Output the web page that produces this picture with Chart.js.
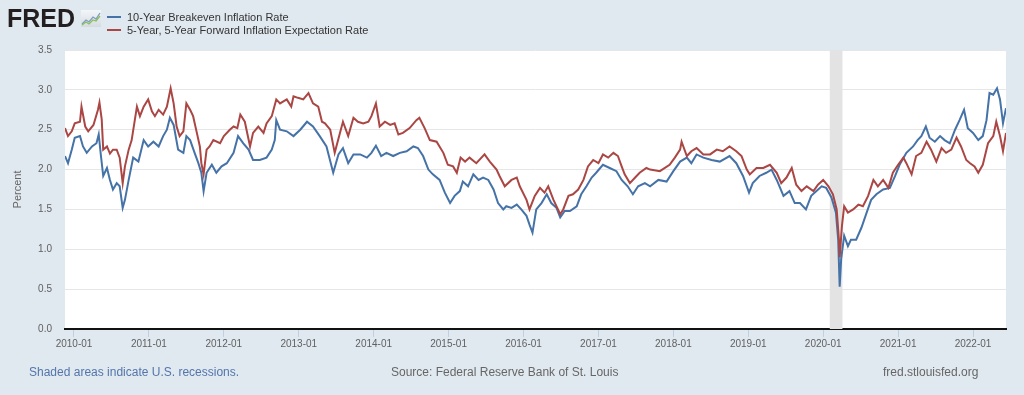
<!DOCTYPE html>
<html>
<head>
<meta charset="utf-8">
<script src="https://cdn.jsdelivr.net/npm/chart.js@4.4.1/dist/chart.umd.min.js"></script>
<style>
  html, body { margin: 0; padding: 0; }
  body {
    width: 1024px; height: 395px; background: #e1e9f0;
    position: relative; overflow: hidden;
    font-family: "Liberation Sans", Arial, sans-serif;
  }
  #chart { position: absolute; left: 0; top: 0; }
  .logo {
    position: absolute; left: 7px; top: 6px;
    font: bold 25px/25px "Liberation Sans", Arial, sans-serif;
    color: #231f20;
  }
  .logo-icon { position: absolute; left: 81px; top: 10px; }
  .legend-row {
    position: absolute; left: 107px; height: 13px;
    font-size: 11px; line-height: 13px; color: #333; white-space: nowrap;
  }
  .swatch {
    display: inline-block; width: 14px; height: 2px;
    vertical-align: middle; margin-right: 6px; position: relative; top: -1px;
  }
  .footer {
    position: absolute; top: 365px; font-size: 12px; line-height: 14px;
    color: #666; white-space: nowrap;
  }
</style>
</head>
<body>
<canvas id="chart" width="1024" height="395"></canvas>

<div class="logo">FRED</div>
<svg class="logo-icon" width="20" height="17" viewBox="0 0 20 17">
  <defs>
    <linearGradient id="bg" x1="0" y1="0" x2="0" y2="1">
      <stop offset="0" stop-color="#f4f6f8"/>
      <stop offset="1" stop-color="#d5dbe2"/>
    </linearGradient>
  </defs>
  <rect x="0" y="0" width="20" height="17" fill="url(#bg)"/>
  <polyline points="1,14 5,10 8,12 12,7 15,9 19,3" fill="none" stroke="#7e9cc4" stroke-width="1.3"/>
  <polyline points="1,15 5,12 8,14 12,10 15,11 19,6" fill="none" stroke="#8cbf5b" stroke-width="1.3"/>
</svg>

<div class="legend-row" id="legend1" style="top:11px"></div>
<div class="legend-row" id="legend2" style="top:24px"></div>

<div class="footer" style="left:29px; color:#5375ab">Shaded areas indicate U.S. recessions.</div>
<div class="footer" style="left:391px">Source: Federal Reserve Bank of St. Louis</div>
<div class="footer" style="left:883px">fred.stlouisfed.org</div>

<script>
// Series names and colours
const breakevenName = '10-Year Breakeven Inflation Rate';
const forwardName = '5-Year, 5-Year Forward Inflation Expectation Rate';
const BLUE = '#4572a7';
const RED = '#aa4643';

// Axis range (decimal years) and tick labels
const startYear = 2009.88;
const endYear = 2022.44;
const tickYears = [2010, 2011, 2012, 2013, 2014, 2015, 2016, 2017, 2018, 2019, 2020, 2021, 2022];
const yTicks = [0, 0.5, 1, 1.5, 2, 2.5, 3, 3.5];

// Recession (2020-02 to 2020-04)
const recessions = [[2020.088, 2020.257]];

// 10-Year Breakeven Inflation Rate (decimal year, percent)
const breakevenDates = [
  2009.88, 2009.92, 2009.97, 2010.01, 2010.08, 2010.12, 2010.17, 2010.24, 2010.30, 2010.33,
  2010.36, 2010.39, 2010.44, 2010.48, 2010.52, 2010.57, 2010.61, 2010.65, 2010.68, 2010.73,
  2010.79, 2010.86, 2010.93, 2010.99, 2011.06, 2011.13, 2011.19, 2011.24, 2011.28, 2011.33,
  2011.39, 2011.46, 2011.50, 2011.55, 2011.61, 2011.66, 2011.70, 2011.73, 2011.77, 2011.84,
  2011.90, 2011.97, 2012.04, 2012.13, 2012.19, 2012.26, 2012.33, 2012.39, 2012.48, 2012.57,
  2012.64, 2012.68, 2012.70, 2012.75, 2012.84, 2012.93, 2013.02, 2013.11, 2013.19, 2013.28,
  2013.37, 2013.46, 2013.53, 2013.59, 2013.66, 2013.73, 2013.82, 2013.91, 2013.97, 2014.03,
  2014.10, 2014.17, 2014.26, 2014.35, 2014.44, 2014.53, 2014.59, 2014.66, 2014.73, 2014.79,
  2014.88, 2014.95, 2015.02, 2015.08, 2015.15, 2015.19, 2015.26, 2015.33, 2015.40, 2015.46,
  2015.53, 2015.60, 2015.66, 2015.73, 2015.77, 2015.84, 2015.91, 2015.97, 2016.04, 2016.08,
  2016.12, 2016.17, 2016.24, 2016.31, 2016.37, 2016.44, 2016.49, 2016.55, 2016.62, 2016.71,
  2016.77, 2016.84, 2016.91, 2016.97, 2017.06, 2017.15, 2017.24, 2017.31, 2017.39, 2017.46,
  2017.53, 2017.62, 2017.69, 2017.80, 2017.91, 2018.00, 2018.09, 2018.18, 2018.24, 2018.31,
  2018.40, 2018.51, 2018.62, 2018.75, 2018.84, 2018.93, 2019.01, 2019.06, 2019.15, 2019.24,
  2019.31, 2019.38, 2019.47, 2019.55, 2019.62, 2019.69, 2019.77, 2019.84, 2019.91, 2019.98,
  2020.04, 2020.11, 2020.17, 2020.20, 2020.22, 2020.24, 2020.28, 2020.33, 2020.37, 2020.44,
  2020.51, 2020.58, 2020.64, 2020.71, 2020.80, 2020.89, 2020.96, 2021.02, 2021.11, 2021.20,
  2021.26, 2021.31, 2021.37, 2021.42, 2021.49, 2021.56, 2021.62, 2021.69, 2021.76, 2021.82,
  2021.88, 2021.93, 2022.00, 2022.07, 2022.13, 2022.18, 2022.22, 2022.27, 2022.32, 2022.36,
  2022.40, 2022.44
];
const breakevenValues = [
  2.17, 2.08, 2.25, 2.40, 2.42, 2.29, 2.21, 2.29, 2.33, 2.44,
  2.17, 1.92, 2.02, 1.87, 1.75, 1.83, 1.79, 1.52, 1.62, 1.87,
  2.15, 2.10, 2.37, 2.29, 2.35, 2.29, 2.42, 2.50, 2.65, 2.56,
  2.25, 2.21, 2.42, 2.37, 2.21, 2.08, 1.96, 1.73, 1.96, 2.06,
  1.96, 2.04, 2.08, 2.21, 2.42, 2.33, 2.25, 2.12, 2.12, 2.15,
  2.25, 2.37, 2.62, 2.50, 2.48, 2.42, 2.50, 2.60, 2.54, 2.42,
  2.29, 1.96, 2.19, 2.27, 2.08, 2.19, 2.19, 2.15, 2.21, 2.30,
  2.17, 2.21, 2.17, 2.21, 2.23, 2.29, 2.27, 2.17, 2.00, 1.94,
  1.87, 1.71, 1.58, 1.67, 1.73, 1.85, 1.79, 1.94, 1.87, 1.90,
  1.87, 1.75, 1.58, 1.50, 1.54, 1.52, 1.56, 1.50, 1.42, 1.31,
  1.21, 1.50, 1.58, 1.69, 1.58, 1.52, 1.40, 1.48, 1.48, 1.54,
  1.69, 1.79, 1.90, 1.96, 2.06, 2.02, 1.98, 1.87, 1.79, 1.69,
  1.79, 1.83, 1.79, 1.87, 1.85, 1.98, 2.10, 2.15, 2.08, 2.19,
  2.15, 2.12, 2.10, 2.17, 2.08, 1.92, 1.71, 1.83, 1.92, 1.96,
  2.00, 1.87, 1.67, 1.73, 1.58, 1.58, 1.50, 1.67, 1.73, 1.79,
  1.77, 1.65, 1.46, 1.12, 0.53, 0.88, 1.17, 1.04, 1.12, 1.12,
  1.27, 1.46, 1.62, 1.69, 1.75, 1.77, 1.92, 2.06, 2.21, 2.29,
  2.37, 2.42, 2.54, 2.40, 2.35, 2.42, 2.37, 2.33, 2.50, 2.62,
  2.75, 2.52, 2.46, 2.37, 2.42, 2.62, 2.96, 2.94, 3.02, 2.88,
  2.58, 2.77
];

// 5-Year, 5-Year Forward Inflation Expectation Rate (decimal year, percent)
const forwardDates = [
  2009.88, 2009.92, 2009.97, 2010.01, 2010.08, 2010.10, 2010.15, 2010.19, 2010.26, 2010.32,
  2010.34, 2010.37, 2010.39, 2010.44, 2010.48, 2010.52, 2010.57, 2010.61, 2010.65, 2010.68,
  2010.73, 2010.77, 2010.84, 2010.88, 2010.93, 2010.99, 2011.04, 2011.08, 2011.13, 2011.19,
  2011.24, 2011.29, 2011.33, 2011.37, 2011.41, 2011.46, 2011.50, 2011.55, 2011.59, 2011.64,
  2011.68, 2011.70, 2011.73, 2011.77, 2011.81, 2011.86, 2011.95, 2012.00, 2012.08, 2012.13,
  2012.18, 2012.22, 2012.28, 2012.35, 2012.39, 2012.46, 2012.53, 2012.57, 2012.64, 2012.70,
  2012.75, 2012.84, 2012.90, 2012.93, 2012.99, 2013.06, 2013.13, 2013.19, 2013.26, 2013.31,
  2013.35, 2013.42, 2013.48, 2013.55, 2013.59, 2013.66, 2013.73, 2013.79, 2013.86, 2013.93,
  2013.97, 2014.03, 2014.08, 2014.15, 2014.22, 2014.28, 2014.33, 2014.39, 2014.48, 2014.57,
  2014.61, 2014.68, 2014.75, 2014.84, 2014.93, 2014.99, 2015.06, 2015.11, 2015.16, 2015.22,
  2015.28, 2015.37, 2015.48, 2015.55, 2015.64, 2015.68, 2015.75, 2015.84, 2015.91, 2015.95,
  2016.04, 2016.08, 2016.15, 2016.22, 2016.28, 2016.33, 2016.40, 2016.49, 2016.53, 2016.60,
  2016.66, 2016.73, 2016.80, 2016.86, 2016.93, 2017.00, 2017.06, 2017.13, 2017.20, 2017.26,
  2017.31, 2017.35, 2017.42, 2017.49, 2017.55, 2017.64, 2017.69, 2017.82, 2017.95, 2018.02,
  2018.09, 2018.11, 2018.18, 2018.24, 2018.31, 2018.40, 2018.49, 2018.58, 2018.66, 2018.75,
  2018.84, 2018.91, 2018.98, 2019.02, 2019.11, 2019.20, 2019.29, 2019.38, 2019.44, 2019.51,
  2019.58, 2019.64, 2019.71, 2019.78, 2019.87, 2019.93, 2020.00, 2020.07, 2020.13, 2020.18,
  2020.21, 2020.22, 2020.25, 2020.28, 2020.33, 2020.40, 2020.47, 2020.53, 2020.60, 2020.67,
  2020.73, 2020.80, 2020.87, 2020.93, 2021.00, 2021.07, 2021.11, 2021.18, 2021.24, 2021.31,
  2021.38, 2021.44, 2021.51, 2021.58, 2021.64, 2021.71, 2021.78, 2021.84, 2021.91, 2021.96,
  2022.02, 2022.07, 2022.13, 2022.20, 2022.27, 2022.31, 2022.36, 2022.40, 2022.44
];
const forwardValues = [
  2.52, 2.42, 2.48, 2.58, 2.60, 2.79, 2.54, 2.48, 2.56, 2.75,
  2.84, 2.63, 2.25, 2.29, 2.20, 2.25, 2.25, 2.15, 1.83, 2.04,
  2.25, 2.37, 2.79, 2.67, 2.79, 2.88, 2.73, 2.67, 2.75, 2.69,
  2.79, 3.02, 2.83, 2.54, 2.42, 2.48, 2.83, 2.75, 2.67, 2.46,
  2.29, 2.08, 1.94, 2.25, 2.29, 2.37, 2.33, 2.42, 2.50, 2.54,
  2.52, 2.69, 2.60, 2.29, 2.46, 2.54, 2.46, 2.58, 2.67, 2.88,
  2.83, 2.88, 2.79, 2.92, 2.90, 2.88, 2.96, 2.83, 2.79, 2.60,
  2.58, 2.50, 2.21, 2.46, 2.60, 2.42, 2.65, 2.60, 2.58, 2.60,
  2.67, 2.83, 2.54, 2.60, 2.56, 2.58, 2.44, 2.46, 2.52, 2.62,
  2.65, 2.52, 2.37, 2.35, 2.21, 2.06, 2.04, 1.96, 2.15, 2.10,
  2.15, 2.08, 2.19, 2.10, 2.00, 1.92, 1.79, 1.87, 1.90, 1.79,
  1.62, 1.50, 1.67, 1.77, 1.71, 1.79, 1.62, 1.44, 1.50, 1.67,
  1.69, 1.75, 1.87, 2.04, 2.12, 2.08, 2.19, 2.15, 2.21, 2.17,
  2.04, 1.94, 1.83, 1.90, 1.96, 2.02, 2.00, 1.98, 2.06, 2.15,
  2.25, 2.35, 2.17, 2.23, 2.27, 2.19, 2.19, 2.25, 2.23, 2.29,
  2.23, 2.17, 2.00, 1.94, 2.02, 2.02, 2.06, 1.96, 1.83, 1.90,
  2.02, 1.81, 1.73, 1.79, 1.73, 1.81, 1.87, 1.79, 1.69, 1.50,
  1.12, 0.90, 1.29, 1.54, 1.46, 1.50, 1.56, 1.54, 1.67, 1.87,
  1.79, 1.87, 1.77, 1.96, 2.06, 2.15, 2.08, 1.94, 2.17, 2.21,
  2.35, 2.25, 2.10, 2.27, 2.21, 2.25, 2.40, 2.29, 2.12, 2.08,
  2.04, 1.96, 2.06, 2.33, 2.42, 2.60, 2.42, 2.23, 2.46
];

Chart.defaults.font.family = '"Liberation Sans", Arial, sans-serif';

function toPoints(dates, values) {
  return dates.map((d, i) => ({ x: d, y: values[i] }));
}

// Legend (HTML, above the plot like FRED)
function legendRow(el, color, text) {
  const sw = document.createElement('span');
  sw.className = 'swatch';
  sw.style.background = color;
  el.appendChild(sw);
  el.appendChild(document.createTextNode(text));
}
legendRow(document.getElementById('legend1'), BLUE, breakevenName);
legendRow(document.getElementById('legend2'), RED, forwardName);

// White plot background + recession shading
const plotBackground = {
  id: 'plotBackground',
  beforeDraw(chart) {
    const { ctx, chartArea: a } = chart;
    ctx.save();
    ctx.fillStyle = '#ffffff';
    ctx.fillRect(a.left, a.top, a.width, a.height);
    ctx.restore();
  },
  beforeDatasetsDraw(chart) {
    const { ctx, chartArea: a, scales: { x } } = chart;
    ctx.save();
    ctx.fillStyle = '#e3e3e3';
    recessions.forEach(([s, e]) => {
      const x0 = x.getPixelForValue(s);
      const x1 = x.getPixelForValue(e);
      ctx.fillRect(x0, a.top, x1 - x0, a.height);
    });
    ctx.restore();
  }
};

const chart = new Chart(document.getElementById('chart'), {
  type: 'line',
  data: {
    datasets: [
      {
        label: forwardName,
        data: toPoints(forwardDates, forwardValues),
        borderColor: RED,
        borderWidth: 2,
        pointRadius: 0,
        tension: 0,
        order: 0
      },
      {
        label: breakevenName,
        data: toPoints(breakevenDates, breakevenValues),
        borderColor: BLUE,
        borderWidth: 2,
        pointRadius: 0,
        tension: 0,
        order: 1
      }
    ]
  },
  options: {
    responsive: false,
    animation: false,
    events: [],
    layout: { padding: { left: 0, top: 50, right: 18, bottom: 0 } },
    plugins: {
      legend: { display: false },
      tooltip: { enabled: false }
    },
    scales: {
      x: {
        type: 'linear',
        min: startYear,
        max: endYear,
        afterBuildTicks: s => { s.ticks = tickYears.map(v => ({ value: v })); },
        afterFit: s => { s.height = 66; },
        grid: { drawOnChartArea: false, drawTicks: true, tickLength: 8, color: '#c0d0e0', tickColor: '#c0d0e0' },
        border: { display: true, color: '#111111', width: 2 },
        ticks: {
          padding: 1, maxRotation: 0, autoSkip: false,
          color: '#606060', font: { size: 10 },
          callback: v => v + '-01'
        }
      },
      y: {
        min: 0,
        max: 3.5,
        afterBuildTicks: s => { s.ticks = yTicks.map(v => ({ value: v })); },
        afterFit: s => { s.width = 65; },
        grid: { color: '#e6e6e6', drawTicks: false },
        border: { display: false },
        ticks: {
          padding: 13, color: '#606060', font: { size: 10 },
          callback: v => Number(v).toFixed(1)
        },
        title: {
          display: true, text: 'Percent', color: '#666666',
          font: { size: 11 }, padding: { top: 11, bottom: 0 }
        }
      }
    }
  },
  plugins: [plotBackground]
});
</script>
</body>
</html>
